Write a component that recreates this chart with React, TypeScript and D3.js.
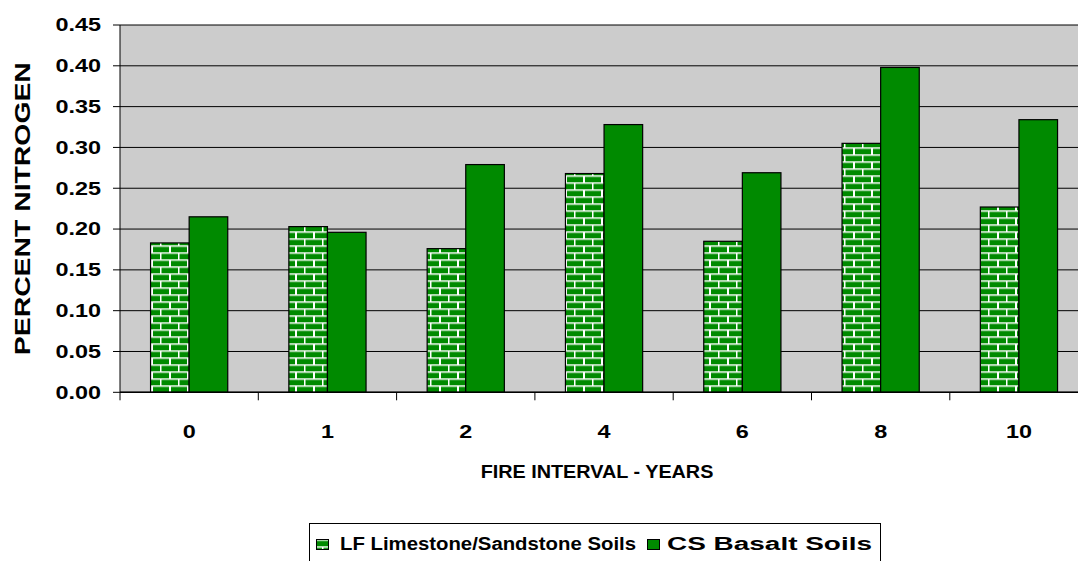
import React from "react";
import * as d3 from "d3";

const categories = ["0", "1", "2", "4", "6", "8", "10"];
const lfValues = [0.183, 0.203, 0.176, 0.268, 0.185, 0.305, 0.227];
const csValues = [0.215, 0.196, 0.279, 0.328, 0.269, 0.398, 0.334];
const yTicks = [0, 0.05, 0.1, 0.15, 0.2, 0.25, 0.3, 0.35, 0.4, 0.45];
const seriesNames = ["LF Limestone/Sandstone Soils", "CS Basalt Soils"];

const W = 1078;
const H = 561;
const GREEN = "#008a00";
const FONT = "'Liberation Sans', Arial, sans-serif";

function SText(props: { x: number; y: number; anchor?: string; size: number; sx?: number; children: React.ReactNode }) {
  const { x, y, anchor = "start", size, sx = 1, children } = props;
  return (
    <text transform={`translate(${x},${y}) scale(${sx},1)`} dy="0.35em" textAnchor={anchor} fontSize={size} fontWeight="bold">
      {children}
    </text>
  );
}

export default function App() {
  const left = 120;
  const top = 25;
  const bottom = 392.3;
  const catWidth = 138.3;
  const right = left + catWidth * categories.length;

  const x = d3.scaleBand<string>().domain(categories).range([left, right]).paddingInner(0).paddingOuter(0);
  const y = d3.scaleLinear().domain([0, 0.45]).range([bottom, top]);
  const barW = 38.6;

  const bars: React.ReactNode[] = [];
  categories.forEach((c, i) => {
    const cx = (x(c) as number) + x.bandwidth() / 2;
    const lf = lfValues[i];
    const cs = csValues[i];
    bars.push(
      <rect key={"lf" + i} x={cx - barW} y={y(lf)} width={barW} height={y(0) - y(lf)} fill="url(#brick)" stroke="#000" strokeWidth={1.2} />
    );
    bars.push(
      <rect key={"cs" + i} x={cx} y={y(cs)} width={barW} height={y(0) - y(cs)} fill={GREEN} stroke="#000" strokeWidth={1.2} />
    );
  });

  return (
    <svg width={W} height={H} style={{ position: "absolute", left: 0, top: 0, background: "#fff" }} fontFamily={FONT}>
      <defs>
        <pattern id="brick" patternUnits="userSpaceOnUse" width={18} height={14} x={0} y={bottom}>
          <rect width={18} height={14} fill="#ffffff" />
          <rect x={0} y={1.5} width={16} height={5.5} fill={GREEN} />
          <rect x={17.5} y={1.5} width={0.5} height={5.5} fill={GREEN} />
          <rect x={0} y={8.5} width={7} height={5.5} fill={GREEN} />
          <rect x={9} y={8.5} width={9} height={5.5} fill={GREEN} />
        </pattern>
      </defs>
      <rect x={left} y={top} width={right - left} height={bottom - top} fill="#cccccc" />
      {yTicks.map((t) => (
        <g key={t}>
          <line x1={left - 7} x2={right} y1={y(t)} y2={y(t)} stroke="#000" strokeWidth={1} />
          <SText x={101} y={y(t)} anchor="end" size={18} sx={1.3}>
            {t.toFixed(2)}
          </SText>
        </g>
      ))}
      {bars}
      <line x1={left} x2={left} y1={top} y2={bottom} stroke="#000" strokeWidth={1} />
      <line x1={left} x2={right} y1={bottom} y2={bottom} stroke="#000" strokeWidth={1.5} />
      {categories.map((c, i) => (
        <line key={"t" + i} x1={x(c) as number} x2={x(c) as number} y1={bottom} y2={bottom + 8} stroke="#000" strokeWidth={1} />
      ))}
      {categories.map((c) => (
        <SText key={"l" + c} x={(x(c) as number) + x.bandwidth() / 2} y={432} anchor="middle" size={18} sx={1.3}>
          {c}
        </SText>
      ))}
      <SText x={597} y={472} anchor="middle" size={18} sx={1.1}>
        FIRE INTERVAL - YEARS
      </SText>
      <text
        transform={`translate(22,${(top + bottom) / 2}) rotate(-90)`}
        dy="0.35em"
        textAnchor="middle"
        fontSize={22}
        fontWeight="bold"
        textLength={293}
        lengthAdjust="spacingAndGlyphs"
      >
        PERCENT NITROGEN
      </text>
      <rect x={309.5} y={523.5} width={571} height={45} fill="#fff" stroke="#000" strokeWidth={1} />
      <rect x={316.5} y={539.5} width={12} height={10} fill="url(#brick)" stroke="#000" strokeWidth={1} />
      <text x={340} y={544} dy="0.35em" fontSize={18} fontWeight="bold" textLength={296} lengthAdjust="spacingAndGlyphs">
        {seriesNames[0]}
      </text>
      <rect x={647.5} y={539.5} width={12} height={10} fill={GREEN} stroke="#000" strokeWidth={1} />
      <text x={667} y={544} dy="0.35em" fontSize={18} fontWeight="bold" textLength={205} lengthAdjust="spacingAndGlyphs">
        {seriesNames[1]}
      </text>
    </svg>
  );
}
